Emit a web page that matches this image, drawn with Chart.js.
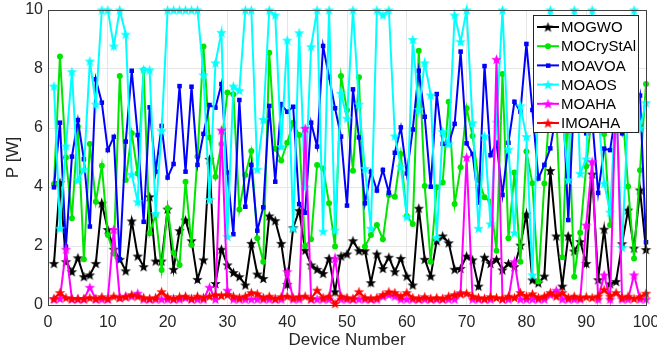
<!DOCTYPE html>
<html>
<head>
<meta charset="utf-8">
<title>P per device</title>
<script src="https://cdn.jsdelivr.net/npm/chart.js@4.4.1/dist/chart.umd.min.js"></script>
<style>
    html, body { margin: 0; padding: 0; background: #fff; }
    #wrap { width: 657px; height: 355px; position: relative; }
</style>
</head>
<body>
<div id="wrap"><canvas id="chart" width="657" height="355"></canvas></div>
<script>
// x axis: device index
const devices = Array.from({ length: 100 }, (_, i) => i + 1);
const xTicks = [0, 10, 20, 30, 40, 50, 60, 70, 80, 90, 100];
const yTicks = [0, 2, 4, 6, 8, 10];

// series values (P [W])
const mogwo = [
    1.41, 4.15, 1.47, 1.13, 1.60, 0.96, 1.02, 1.41, 3.45, 2.56,
    1.89, 1.55, 1.16, 2.85, 1.66, 1.30, 3.67, 1.49, 1.49, 3.25,
    1.21, 2.52, 2.88, 2.18, 0.87, 1.53, 4.94, 0.73, 1.89, 1.36,
    1.10, 0.96, 0.68, 2.09, 1.05, 0.90, 3.02, 2.86, 2.09, 0.70,
    2.62, 3.20, 1.86, 1.36, 1.21, 1.07, 1.58, 0.45, 1.66, 1.73,
    2.18, 1.84, 1.84, 0.76, 1.73, 1.24, 1.62, 1.13, 1.58, 0.98,
    0.68, 3.28, 1.55, 0.98, 2.18, 2.34, 2.11, 1.21, 1.24, 1.66,
    1.53, 0.64, 1.62, 1.41, 1.55, 1.19, 1.41, 1.30, 2.03, 3.08,
    0.85, 0.75, 0.98, 4.56, 2.34, 0.64, 2.34, 1.83, 2.15, 1.41,
    4.44, 0.86, 2.57, 0.72, 0.80, 2.08, 3.22, 1.93, 3.90, 1.88
];
const mocrystal = [
    4.10, 8.42, 5.00, 2.94, 6.05, 1.55, 5.46, 3.50, 4.72, 2.37,
    1.75, 7.76, 4.24, 5.82, 4.46, 7.97, 2.43, 3.05, 1.19, 3.28,
    1.77, 1.36, 4.18, 2.03, 5.03, 8.76, 5.68, 4.35, 5.46, 7.20,
    7.14, 3.24, 4.41, 5.22, 2.26, 1.47, 8.55, 5.30, 4.90, 5.50,
    6.18, 5.76, 2.00, 2.23, 4.75, 4.63, 3.45, 1.98, 7.76, 6.61,
    4.55, 7.72, 1.98, 2.37, 2.71, 2.23, 3.73, 3.67, 5.12, 3.02,
    2.75, 8.62, 4.03, 1.47, 3.99, 4.15, 6.89, 3.42, 4.67, 6.67,
    5.73, 4.24, 3.65, 3.50, 1.84, 7.83, 2.26, 4.49, 1.47, 5.20,
    4.13, 0.80, 4.12, 7.00, 6.50, 1.62, 6.80, 0.96, 2.45, 4.70,
    6.50, 7.00, 5.80, 2.71, 6.30, 6.80, 4.02, 1.58, 4.57, 7.49
];
const moavoa = [
    3.99, 6.18, 1.98, 5.03, 6.27, 4.94, 2.66, 7.65, 6.86, 5.25,
    5.70, 1.55, 5.54, 7.94, 5.76, 2.82, 6.70, 4.52, 6.07, 4.32,
    4.78, 7.42, 4.52, 7.40, 4.75, 5.80, 6.78, 6.69, 7.49, 4.49,
    2.40, 6.95, 3.33, 4.75, 2.52, 3.31, 6.75, 4.18, 6.81, 6.55,
    6.72, 3.42, 3.13, 6.18, 5.37, 8.78, 7.72, 6.67, 5.71, 3.37,
    7.31, 5.68, 3.45, 4.52, 3.88, 4.58, 3.81, 5.16, 6.02, 4.46,
    5.95, 7.94, 6.38, 4.01, 7.15, 5.46, 5.46, 6.14, 8.59, 5.48,
    5.12, 3.47, 8.10, 5.08, 5.50, 3.73, 5.50, 6.89, 6.55, 8.85,
    6.61, 4.29, 4.75, 5.31, 6.50, 7.50, 2.88, 7.00, 6.50, 5.82,
    6.30, 3.80, 5.30, 5.25, 6.60, 5.82, 6.80, 6.20, 7.10, 2.13
];
const moaos = [
    7.42, 2.60, 5.39, 7.91, 4.24, 4.60, 8.27, 6.81, 10.0, 10.0,
    8.78, 10.0, 9.18, 4.43, 3.50, 7.99, 7.97, 3.10, 5.91, 10.0,
    10.0, 10.0, 10.0, 10.0, 10.0, 7.80, 3.58, 8.21, 9.24, 2.32,
    7.42, 7.27, 10.0, 10.0, 4.60, 6.29, 10.0, 9.83, 5.37, 8.98,
    2.60, 9.23, 4.00, 8.76, 10.0, 2.50, 10.0, 2.54, 7.18, 6.33,
    10.0, 6.81, 4.63, 2.60, 10.0, 9.83, 10.0, 5.73, 4.69, 2.99,
    9.00, 6.63, 8.21, 7.12, 2.29, 5.88, 5.46, 9.83, 8.93, 10.0,
    6.18, 2.60, 5.73, 2.75, 6.20, 10.0, 5.28, 2.45, 6.75, 5.71,
    1.02, 7.00, 6.50, 10.0, 7.00, 6.50, 4.24, 10.0, 4.46, 4.95,
    10.0, 6.50, 4.13, 3.15, 7.00, 1.95, 6.50, 10.0, 6.00, 6.86
];
const moaha = [
    0.20, 0.22, 1.89, 0.20, 0.20, 0.20, 0.60, 0.20, 0.20, 0.20,
    2.56, 0.25, 0.30, 0.30, 0.40, 0.20, 0.20, 0.20, 0.20, 0.20,
    0.20, 0.20, 0.25, 0.20, 0.20, 0.20, 0.60, 0.20, 5.93, 0.50,
    0.20, 0.20, 0.20, 0.20, 0.20, 0.20, 0.20, 0.20, 0.20, 1.13,
    0.20, 0.20, 5.99, 0.20, 0.20, 0.20, 0.20, 1.58, 0.20, 0.20,
    0.20, 0.20, 0.20, 0.20, 0.20, 0.30, 0.35, 0.30, 0.20, 0.20,
    0.20, 0.20, 0.20, 0.20, 0.20, 0.20, 0.20, 0.20, 0.42, 5.01,
    0.20, 0.20, 0.20, 0.20, 8.33, 0.20, 0.20, 1.47, 0.20, 0.20,
    0.20, 0.20, 0.20, 0.35, 0.50, 0.20, 0.20, 0.20, 0.20, 2.71,
    4.86, 0.20, 1.02, 0.20, 7.50, 0.20, 0.20, 1.02, 0.20, 0.20
];
const imoaha = [
    0.22, 0.42, 0.25, 0.22, 0.22, 0.22, 0.25, 0.22, 0.28, 0.22,
    0.30, 0.25, 0.28, 0.35, 0.30, 0.25, 0.22, 0.25, 0.45, 0.28,
    0.22, 0.28, 0.30, 0.22, 0.30, 0.25, 0.30, 0.35, 0.32, 0.35,
    0.30, 0.25, 0.30, 0.42, 0.38, 0.25, 0.30, 0.22, 0.28, 0.30,
    0.25, 0.28, 0.30, 0.22, 0.50, 0.25, 0.30, 0.05, 0.30, 0.25,
    0.22, 0.45, 0.25, 0.22, 0.25, 0.35, 0.45, 0.42, 0.30, 0.42,
    0.25, 0.22, 0.28, 0.22, 0.25, 0.22, 0.30, 0.35, 0.38, 0.40,
    0.30, 0.25, 0.22, 0.28, 0.25, 0.22, 0.30, 0.25, 0.42, 0.30,
    0.38, 0.25, 0.30, 0.42, 0.30, 0.42, 0.25, 0.30, 0.25, 0.28,
    0.25, 0.30, 0.52, 0.30, 0.42, 0.25, 0.30, 0.22, 0.28, 0.40
];

const FONT = '"Liberation Sans", Arial, Helvetica, sans-serif';
const TEXT_COLOR = '#262626';

// filled five-point star like MATLAB's 'p' marker
function makeStar(color, r) {
    const size = Math.ceil(r * 2 + 2);
    const c = document.createElement('canvas');
    c.width = size;
    c.height = size;
    const g = c.getContext('2d');
    g.translate(size / 2, size / 2 + 0.5);
    g.beginPath();
    for (let k = 0; k < 10; k++) {
        const ang = -Math.PI / 2 + k * Math.PI / 5;
        const rad = k % 2 === 0 ? r : r * 0.42;
        g.lineTo(rad * Math.cos(ang), rad * Math.sin(ang));
    }
    g.closePath();
    g.fillStyle = color;
    g.fill();
    return c;
}

const series = [
    { label: 'MOGWO',     data: mogwo,     color: '#000000', marker: makeStar('#000000', 5.5), radius: 5 },
    { label: 'MOCryStAl', data: mocrystal, color: '#00e600', marker: 'circle', radius: 3 },
    { label: 'MOAVOA',    data: moavoa,    color: '#0000ff', marker: 'rect', radius: 3.2 },
    { label: 'MOAOS',     data: moaos,     color: '#00ffff', marker: makeStar('#00ffff', 5.5), radius: 5 },
    { label: 'MOAHA',     data: moaha,     color: '#ff00ff', marker: makeStar('#ff00ff', 5.5), radius: 5 },
    { label: 'IMOAHA',    data: imoaha,    color: '#ff0000', marker: makeStar('#ff0000', 5.5), radius: 5 }
];

// box around plot + legend inside the axes
const boxAndLegend = {
    id: 'boxAndLegend',
    afterDatasetsDraw(chart) {
        const { ctx, chartArea: a } = chart;
        ctx.save();
        ctx.strokeStyle = '#404040';
        ctx.lineWidth = 1;
        ctx.strokeRect(a.left + 0.5, a.top + 0.5, a.right - a.left, a.bottom - a.top);

        // legend box
        const lx = 533, ly = 15, lw = 105, lh = 117;
        ctx.fillStyle = '#ffffff';
        ctx.fillRect(lx, ly, lw, lh);
        ctx.strokeStyle = '#262626';
        ctx.strokeRect(lx + 0.5, ly + 0.5, lw, lh);

        ctx.font = '15px ' + FONT;
        ctx.textBaseline = 'middle';
        series.forEach((s, i) => {
            const y = 27 + i * 19.2;
            ctx.strokeStyle = s.color;
            ctx.lineWidth = 2;
            ctx.beginPath();
            ctx.moveTo(537, y);
            ctx.lineTo(559, y);
            ctx.stroke();
            ctx.fillStyle = s.color;
            if (s.marker === 'circle') {
                ctx.beginPath();
                ctx.arc(548, y, 3, 0, Math.PI * 2);
                ctx.fill();
            } else if (s.marker === 'rect') {
                ctx.fillRect(546, y - 2, 4.5, 4.5);
            } else {
                ctx.drawImage(s.marker, 548 - s.marker.width / 2, y - s.marker.height / 2);
            }
            ctx.fillStyle = '#000000';
            ctx.fillText(s.label, 561, y + 1);
        });
        ctx.restore();
    }
};

function initChart() {
    const ctx = document.getElementById('chart').getContext('2d');
    const n = series.length;
    return new Chart(ctx, {
        type: 'line',
        data: {
            datasets: series.map((s, i) => ({
                label: s.label,
                data: devices.map((d, k) => ({ x: d, y: s.data[k] })),
                borderColor: s.color,
                backgroundColor: s.color,
                borderWidth: 2,
                pointStyle: s.marker,
                pointRadius: s.radius,
                pointBorderWidth: 0,
                tension: 0,
                clip: false,
                order: n - i // later series drawn on top
            }))
        },
        options: {
            responsive: false,
            animation: false,
            devicePixelRatio: 1,
            layout: { padding: { top: 10, right: 11, left: 0, bottom: 0 } },
            plugins: {
                legend: { display: false },
                tooltip: { enabled: false }
            },
            scales: {
                x: {
                    type: 'linear',
                    min: 0,
                    max: 100,
                    afterBuildTicks: (scale) => { scale.ticks = xTicks.map(v => ({ value: v })); },
                    afterFit: (scale) => {
                        scale.height = 50;
                        scale.paddingLeft = 0;
                        scale.paddingRight = 0;
                    },
                    grid: { color: '#e6e6e6', drawTicks: false },
                    border: { color: '#404040' },
                    ticks: { color: TEXT_COLOR, font: { family: FONT, size: 16 }, padding: 8, maxRotation: 0 },
                    title: {
                        display: true,
                        text: 'Device Number',
                        color: TEXT_COLOR,
                        font: { family: FONT, size: 17 },
                        padding: { top: 0, bottom: 4 }
                    }
                },
                y: {
                    min: 0,
                    max: 10,
                    afterBuildTicks: (scale) => { scale.ticks = yTicks.map(v => ({ value: v })); },
                    afterFit: (scale) => {
                        scale.width = 48;
                        scale.paddingTop = 0;
                        scale.paddingBottom = 0;
                    },
                    grid: { color: '#e6e6e6', drawTicks: false },
                    border: { color: '#404040' },
                    ticks: { color: TEXT_COLOR, font: { family: FONT, size: 16 }, padding: 5 },
                    title: {
                        display: true,
                        text: 'P [W]',
                        color: TEXT_COLOR,
                        font: { family: FONT, size: 17 },
                        padding: { top: 3, bottom: 0 }
                    }
                }
            }
        },
        plugins: [boxAndLegend]
    });
}

window.addEventListener('load', initChart);
</script>
</body>
</html>
